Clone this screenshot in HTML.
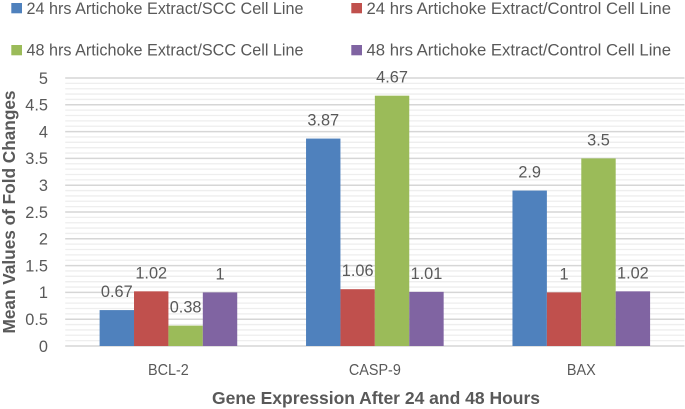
<!DOCTYPE html>
<html>
<head>
<meta charset="utf-8">
<style>
html,body{margin:0;padding:0;background:#fff;width:685px;height:409px;overflow:hidden}
svg{display:block}
text{font-family:"Liberation Sans",sans-serif;fill:#595959}
</style>
</head>
<body>
<svg id="chart" width="685" height="409" viewBox="0 0 685 409" xmlns="http://www.w3.org/2000/svg">
  <g id="legend">
    <g>
      <rect x="11.3" y="3" width="10.7" height="10.3" fill="#4f81bd"/>
      <text x="26.5" y="13.9" font-size="16.5" textLength="277" lengthAdjust="spacingAndGlyphs">24 hrs Artichoke Extract/SCC Cell Line</text>
    </g>
    <g>
      <rect x="351.3" y="3" width="10.7" height="10.3" fill="#c0504d"/>
      <text x="366.5" y="13.9" font-size="16.5" textLength="304.5" lengthAdjust="spacingAndGlyphs">24 hrs Artichoke Extract/Control Cell Line</text>
    </g>
    <g>
      <rect x="11.3" y="45" width="10.7" height="10.3" fill="#9bbb59"/>
      <text x="26.5" y="55.4" font-size="16.5" textLength="277" lengthAdjust="spacingAndGlyphs">48 hrs Artichoke Extract/SCC Cell Line</text>
    </g>
    <g>
      <rect x="351.3" y="45" width="10.7" height="10.3" fill="#8064a2"/>
      <text x="366.5" y="55.4" font-size="16.5" textLength="304.5" lengthAdjust="spacingAndGlyphs">48 hrs Artichoke Extract/Control Cell Line</text>
    </g>
  </g>
  <g id="grid"></g>
  <g id="yticks"></g>
  <g id="bars"></g>
  <g id="labels"></g>
  <g id="xticks"></g>
  <text transform="translate(15,212) rotate(-90)" text-anchor="middle" font-size="17.5" font-weight="bold" textLength="243" lengthAdjust="spacingAndGlyphs">Mean Values of Fold Changes</text>
  <text x="376" y="404" text-anchor="middle" font-size="17.5" font-weight="bold" textLength="328" lengthAdjust="spacingAndGlyphs">Gene Expression After 24 and 48 Hours</text>
</svg>
<script>
const categories = ['BCL-2', 'CASP-9', 'BAX'];
const scc24 = [0.67, 3.87, 2.9];
const control24 = [1.02, 1.06, 1];
const scc48 = [0.38, 4.67, 3.5];
const control48 = [1, 1.01, 1.02];
const yTickLabels = ['0', '0.5', '1', '1.5', '2', '2.5', '3', '3.5', '4', '4.5', '5'];
const seriesNames = ['24h-scc', '24h-control', '48h-scc', '48h-control'];

const seriesValues = [scc24, control24, scc48, control48];
const seriesColors = ['#4f81bd', '#c0504d', '#9bbb59', '#8064a2'];
const NS = 'http://www.w3.org/2000/svg';
const plotLeft = 65.2, plotRight = 684.5, yZero = 346, yTop = 78, yMax = 5;
const step = (plotRight - plotLeft) / categories.length;
const barW = step / 6;
const yScale = v => yZero - (v / yMax) * (yZero - yTop);
const groupStart = i => plotLeft + step * i + barW;

function make(tag, attrs, parent, txt) {
  const el = document.createElementNS(NS, tag);
  for (const k in attrs) el.setAttribute(k, attrs[k]);
  if (txt !== undefined) el.textContent = txt;
  parent.appendChild(el);
  return el;
}
function squeeze(el, ratio) {
  el.setAttribute('textLength', el.getComputedTextLength() * ratio);
  el.setAttribute('lengthAdjust', 'spacingAndGlyphs');
}

const grid = document.getElementById('grid');
for (let i = 0; i <= 50; i++) {
  const v = i / 10;
  const isMajor = i % 5 === 0;
  const ln = make('line', {
    x1: plotLeft, x2: plotRight, y1: yScale(v), y2: yScale(v),
    stroke: isMajor ? '#d6d6d6' : '#eeeeee',
    'stroke-width': isMajor ? 1.5 : 1.3
  }, grid);
  
  
}

const yt = document.getElementById('yticks');
yTickLabels.forEach(t => {
  const el = make('text', {
    x: 48, y: yScale(parseFloat(t)) + 5.8, 'text-anchor': 'end', 'font-size': 17
  }, yt, t);
  
  
  squeeze(el, 0.96);
});

const bars = document.getElementById('bars');
const labels = document.getElementById('labels');
seriesValues.forEach((vals, s) => {
  vals.forEach((v, c) => {
    const x = groupStart(c) + s * barW;
    const r = make('rect', {
      x: x, y: yScale(v), width: barW, height: yZero - yScale(v), fill: seriesColors[s]
    }, bars);
    
    
    const t = make('text', {
      x: x + barW / 2, y: yScale(v) - 13, 'text-anchor': 'middle', 'font-size': 17
    }, labels, String(v));
    
    
    squeeze(t, 0.96);
  });
});

const xt = document.getElementById('xticks');
categories.forEach((c, i) => {
  const el = make('text', {
    x: groupStart(i) + barW * 2, y: 375, 'text-anchor': 'middle', 'font-size': 16
  }, xt, c);
  
  
  squeeze(el, 0.9);
});
</script>
</body>
</html>
